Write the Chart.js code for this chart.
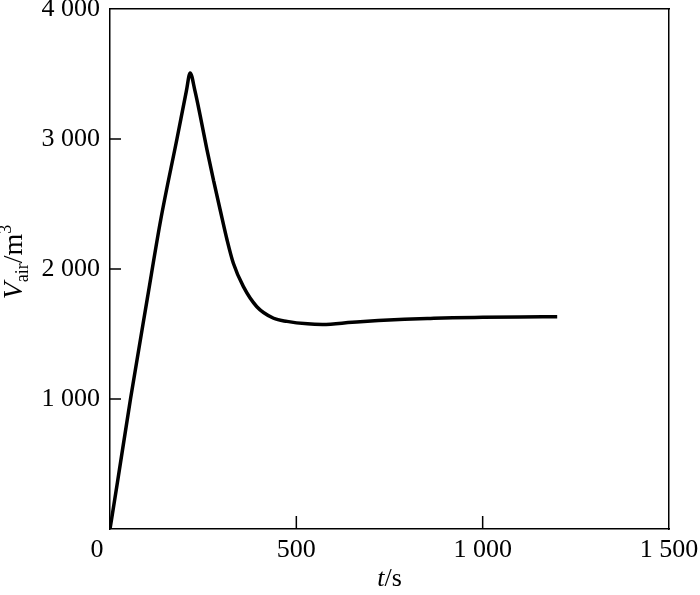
<!DOCTYPE html>
<html>
<head>
<meta charset="utf-8">
<script src="https://cdn.jsdelivr.net/npm/chart.js@4"></script>
<style>
  html, body { margin: 0; padding: 0; background: #fff; }
  #wrap { width: 700px; height: 595px; }
</style>
</head>
<body>
<div id="wrap"><canvas id="chart" width="700" height="595"></canvas></div>
<script>
// time in s
var times = [0, 20, 55, 100, 136, 180, 205, 215, 228, 242, 260, 278, 296, 314, 331, 358, 394, 439, 475, 530, 570, 650, 720, 790, 860, 920, 1000, 1100, 1200];
// air volume in m3
var volumes = [0, 360, 1000, 1770, 2377, 3006, 3370, 3508, 3370, 3180, 2920, 2680, 2450, 2225, 2044, 1864, 1710, 1621, 1597, 1578, 1574, 1590, 1603, 1613, 1620, 1625, 1628, 1631, 1633];

var xTicks = [0, 500, 1000, 1500];
var yTicks = [0, 1000, 2000, 3000, 4000];

var points = [];
for (var i = 0; i < times.length; i++) {
  points.push({x: times[i], y: volumes[i]});
}

var serif = '"Liberation Serif", "Times New Roman", serif';

function fmt(v) {
  // thousands with a space, like "1 500"
  var s = String(v);
  if (v >= 1000) s = s.slice(0, s.length - 3) + ' ' + s.slice(-3);
  return s;
}

function noPad(s) {
  s.paddingLeft = 0; s.paddingRight = 0;
  s.paddingTop = 0; s.paddingBottom = 0;
}

// inward ticks and axis titles
var extras = {
  id: 'extras',
  afterDraw: function (chart) {
    var ctx = chart.ctx;
    var a = chart.chartArea;
    var xs = chart.scales.x, ys = chart.scales.y;
    ctx.save();
    ctx.strokeStyle = '#000';
    ctx.lineWidth = 1.5;
    ctx.beginPath();
    xTicks.forEach(function (v) {
      if (v <= xs.min || v >= xs.max) return;
      var px = xs.getPixelForValue(v);
      ctx.moveTo(px, a.bottom);
      ctx.lineTo(px, a.bottom - 13);
    });
    yTicks.forEach(function (v) {
      if (v <= ys.min || v >= ys.max) return;
      var py = ys.getPixelForValue(v);
      ctx.moveTo(a.left, py);
      ctx.lineTo(a.left + 11, py);
    });
    ctx.stroke();

    ctx.fillStyle = '#000';
    ctx.textBaseline = 'alphabetic';

    // x title: t/s
    var f1 = 'italic 26px ' + serif, f2 = '26px ' + serif;
    ctx.font = f1; var w1 = ctx.measureText('t').width;
    ctx.font = f2; var w2 = ctx.measureText('/s').width;
    var cx = (a.left + a.right) / 2 - (w1 + w2) / 2;
    ctx.font = f1; ctx.fillText('t', cx, 586);
    ctx.font = f2; ctx.fillText('/s', cx + w1, 586);

    // y title: V_air/m^3 rotated
    var g1 = 'italic 28px ' + serif, g2 = '28px ' + serif, small = '18px ' + serif;
    ctx.translate(22, 262);
    ctx.rotate(-Math.PI / 2);
    ctx.font = g1; var a1 = ctx.measureText('V').width;
    ctx.font = small; var a2 = ctx.measureText('air').width;
    ctx.font = g2; var a3 = ctx.measureText('/m').width;
    ctx.font = small; var a4 = ctx.measureText('3').width;
    var x0 = -(a1 + a2 + a3 + a4) / 2;
    ctx.font = g1; ctx.fillText('V', x0, 0); x0 += a1;
    ctx.font = small; ctx.fillText('air', x0, 6); x0 += a2;
    ctx.font = g2; ctx.fillText('/m', x0, 0); x0 += a3;
    ctx.font = small; ctx.fillText('3', x0, -11);
    ctx.restore();
  }
};

new Chart(document.getElementById('chart'), {
  type: 'line',
  data: {
    datasets: [{
      data: points,
      borderColor: '#000',
      borderWidth: 3.5,
      pointRadius: 0,
      fill: false,
      cubicInterpolationMode: 'monotone'
    }]
  },
  options: {
    responsive: false,
    animation: false,
    layout: {padding: {top: 9, right: 31, left: 0, bottom: 0}},
    plugins: {legend: {display: false}, tooltip: {enabled: false}},
    scales: {
      x: {
        type: 'linear',
        min: 0, max: 1500,
        afterBuildTicks: function (s) { s.ticks = xTicks.map(function (v) { return {value: v}; }); },
        afterFit: function (s) { s.height = 66; noPad(s); },
        grid: {display: false, drawTicks: false},
        border: {display: true, color: '#000', width: 1.5},
        ticks: {
          padding: 6,
          color: '#000',
          maxRotation: 0,
          font: {family: serif, size: 26},
          callback: function (v) { return v === 0 ? '0\u2002\u2002' : fmt(v); }
        }
      },
      y: {
        min: 0, max: 4000,
        afterBuildTicks: function (s) { s.ticks = yTicks.map(function (v) { return {value: v}; }); },
        afterFit: function (s) { s.width = 110; noPad(s); },
        grid: {display: false, drawTicks: false},
        border: {display: true, color: '#000', width: 1.5},
        ticks: {
          padding: 10,
          color: '#000',
          font: {family: serif, size: 26},
          callback: function (v) { return v === 0 ? '' : fmt(v); }
        }
      },
      x2: {
        type: 'linear', position: 'top', min: 0, max: 1500,
        grid: {display: false, drawTicks: false},
        border: {display: true, color: '#000', width: 1.5},
        ticks: {display: false},
        afterFit: function (s) { s.height = 0; noPad(s); }
      },
      y2: {
        position: 'right', min: 0, max: 4000,
        grid: {display: false, drawTicks: false},
        border: {display: true, color: '#000', width: 1.5},
        ticks: {display: false},
        afterFit: function (s) { s.width = 0; noPad(s); }
      }
    }
  },
  plugins: [extras]
});
</script>
</body>
</html>
